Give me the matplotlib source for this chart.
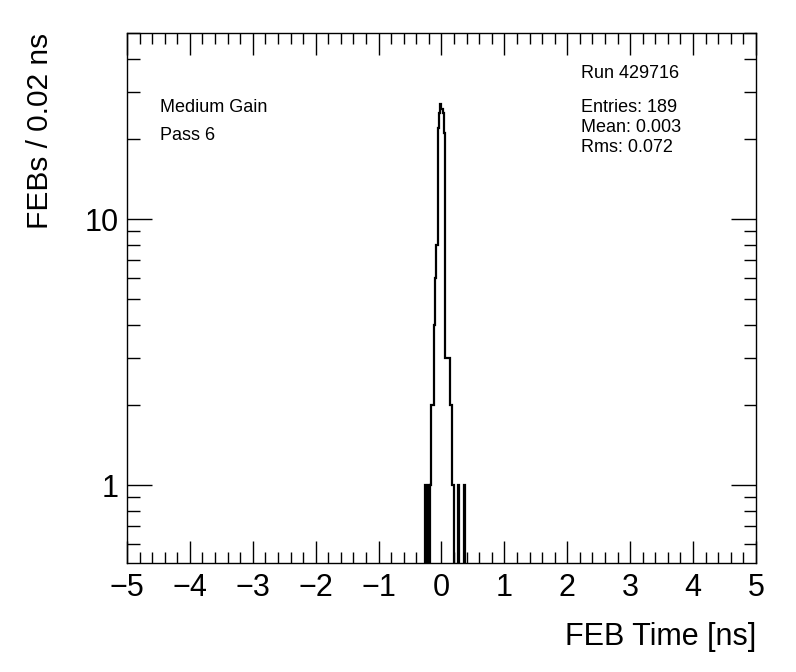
import numpy as np
import matplotlib
matplotlib.use("Agg")
import matplotlib.pyplot as plt
from matplotlib.ticker import MultipleLocator, LogLocator, NullFormatter, FixedLocator, FixedFormatter

plt.rcParams['font.family'] = ['Liberation Sans', 'DejaVu Sans']

# FEB time histogram, 0.02 ns bins from -5 to 5 ns (only non-empty bins listed)
bin_lo = [-0.26, -0.22, -0.18, -0.16, -0.14, -0.12, -0.10, -0.08,
          -0.06, -0.04, -0.02, 0.00, 0.02, 0.04,
          0.06, 0.08, 0.10, 0.12, 0.14, 0.16, 0.18, 0.26, 0.36]
counts = [1, 1, 1, 2, 2, 4, 6, 8,
          22, 25, 27, 26, 25, 21,
          3, 3, 3, 3, 2, 1, 1, 1, 1]

run_text = "Run 429716"
stats_text = ["Entries: 189", "Mean: 0.003", "Rms: 0.072"]
info_text = ["Medium Gain", "Pass 6"]

edges = np.linspace(-5, 5, 501)
vals = np.full(500, 1e-3)
for lo, c in zip(bin_lo, counts):
    i = int(round((lo + 5) / 0.02))
    vals[i] = c

fig = plt.figure(figsize=(7.96, 6.72), dpi=100)
ax = fig.add_axes([0.1595, 0.1622, 0.7902, 0.7887])

ax.stairs(vals, edges, color='black', linewidth=1.6, baseline=1e-3)
ax.set_yscale('log')
ax.set_xlim(-5, 5)
ax.set_ylim(0.51, 50)

ax.xaxis.set_major_locator(MultipleLocator(1))
ax.xaxis.set_minor_locator(MultipleLocator(0.2))
ax.yaxis.set_major_locator(FixedLocator([1, 10]))
ax.yaxis.set_major_formatter(FixedFormatter(['1', '10']))
ax.yaxis.set_minor_locator(LogLocator(base=10, subs=np.arange(2, 10)))
ax.yaxis.set_minor_formatter(NullFormatter())

ax.tick_params(which='both', direction='in', top=True, right=True, width=1,
               labelsize=22, color='black')
ax.tick_params(axis='x', which='major', length=16, pad=7)
ax.tick_params(axis='x', which='minor', length=8)
ax.tick_params(axis='y', which='major', length=18, pad=6)
ax.tick_params(axis='y', which='minor', length=9)
for s in ax.spines.values():
    s.set_linewidth(1)

fig.text(0.05, 0.951, "FEBs / 0.02 ns", rotation=90, ha='center', va='top', fontsize=21.5)
fig.text(0.9497, 0.052, "FEB Time [ns]", ha='right', va='center', fontsize=22)

fig.text(160 / 796, 1 - 107 / 672, info_text[0], ha='left', va='center', fontsize=13)
fig.text(160 / 796, 1 - 135 / 672, info_text[1], ha='left', va='center', fontsize=13)
fig.text(581 / 796, 1 - 74 / 672, run_text, ha='left', va='center', fontsize=13)
for j, t in enumerate(stats_text):
    fig.text(581 / 796, 1 - (108 + 20 * j) / 672, t, ha='left', va='center', fontsize=13)

fig.savefig("out.png", dpi=100)
